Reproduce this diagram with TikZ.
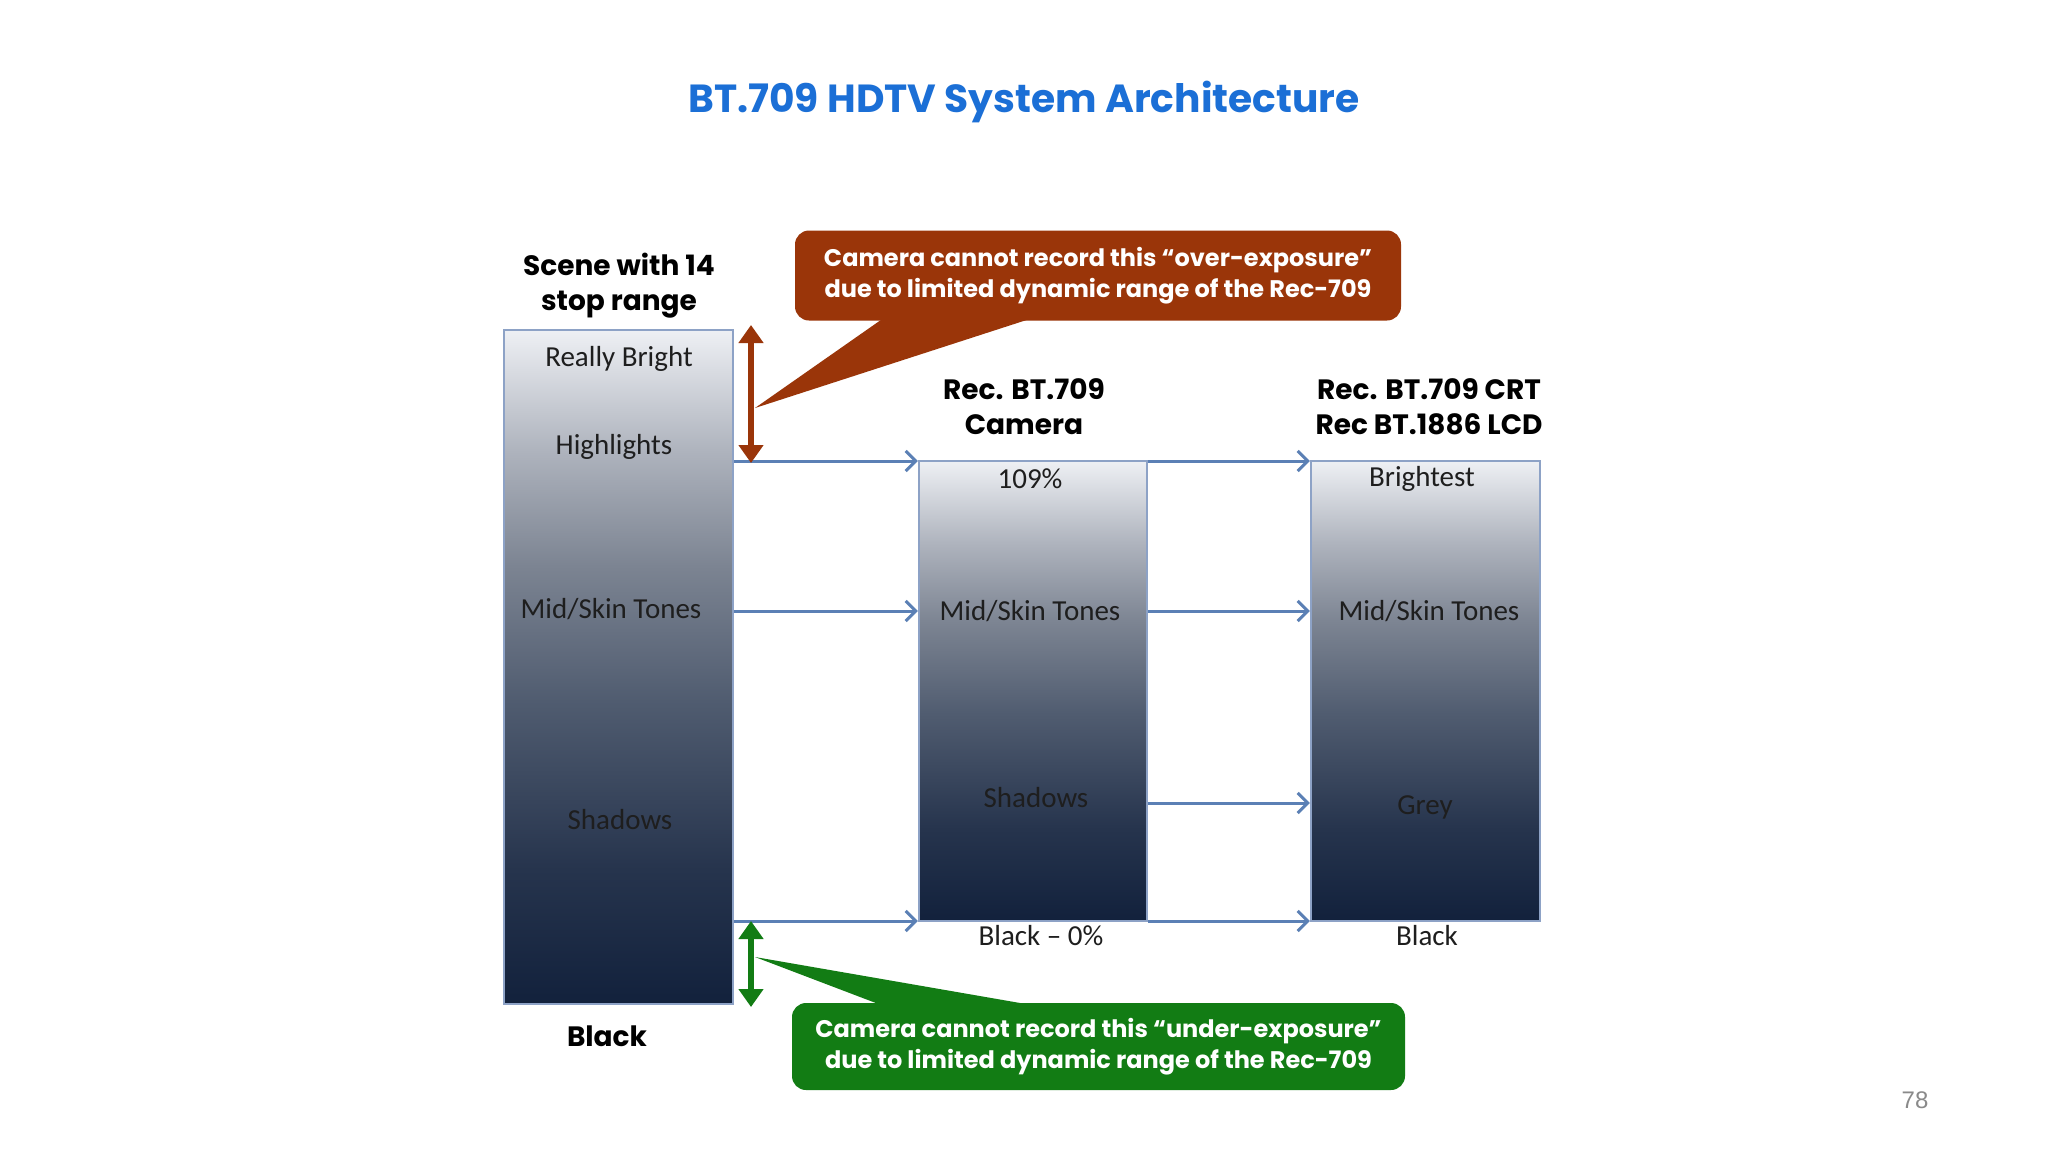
\documentclass[tikz,border=0pt]{standalone}
\usepackage{fontspec}
\setmainfont{Carlito}
\newfontfamily\gothic{Poppins}
\newfontfamily\arialf{Liberation Sans}
\usetikzlibrary{arrows.meta}
\definecolor{titleblue}{HTML}{1B6FD6}
\definecolor{rust}{HTML}{9A3509}
\definecolor{grn}{HTML}{127C14}
\definecolor{arrowblue}{HTML}{5B80B5}
\definecolor{boxborder}{HTML}{8DA2C6}
\definecolor{lbl}{HTML}{1E1E1E}
\definecolor{pagegray}{HTML}{8A8A8A}
\definecolor{sa}{HTML}{12213C}
\definecolor{sb}{HTML}{26344D}
\definecolor{sc}{HTML}{505C70}
\definecolor{sd}{HTML}{7C8492}
\definecolor{se}{HTML}{AEB3BD}
\definecolor{sf}{HTML}{EEF0F4}
\pgfdeclareverticalshading{boxshade}{100bp}{color(0bp)=(sa); color(25bp)=(sa); color(35bp)=(sb); color(47.5bp)=(sc); color(57.5bp)=(sd); color(66bp)=(se); color(75bp)=(sf); color(100bp)=(sf)}
\tikzset{
  tonebox/.style={shading=boxshade, draw=boxborder, line width=1.2pt, inner sep=0pt},
  lab/.style={font=\fontsize{14.5}{16}\selectfont, text=lbl, inner sep=0pt},
  head/.style={font=\gothic\bfseries\fontsize{14}{17.5}\selectfont, align=center, inner sep=0pt},
  flow/.style={draw=arrowblue, line width=1.5pt, -{Straight Barb[length=5pt,width=10pt]}},
  callout/.style={rounded corners=7pt, text=white, align=center, inner sep=0pt,
    font=\gothic\bfseries\fontsize{12}{15.5}\selectfont},
  rangearrow/.style={line width=2.6pt, {Triangle[length=9pt,width=12pt]}-{Triangle[length=9pt,width=12pt]}}
}
\begin{document}
\begin{tikzpicture}[x=0.5pt,y=-0.5pt]
\useasboundingbox[fill=white] (0,0) rectangle (2048,1152);
% title
\node[font=\gothic\bfseries\fontsize{19.6}{22}\selectfont, text=titleblue, inner sep=0pt] (title) at (1024,102) {BT.709 HDTV System Architecture};
% boxes
\node[tonebox, minimum width=114.5pt, minimum height=337pt] (b1) at (618.5,667) {};
\node[tonebox, minimum width=114pt, minimum height=230pt] (b2) at (1033,691) {};
\node[tonebox, minimum width=114.5pt, minimum height=230pt] (b3) at (1425.5,691) {};
% headers
\node[head] (h1) at (619,286) {Scene with 14\\stop range};
\node[head] (h2) at (1024,407) {Rec. BT.709\\Camera};
\node[head] (h3) at (1429,407) {Rec. BT.709 CRT\\Rec BT.1886 LCD};
\node[head] (blk) at (607,1036) {Black};
% labels box 1
\node[lab] (l11) at (619,359) {Really Bright};
\node[lab] (l12) at (614,447) {Highlights};
\node[lab] (l13) at (611,609) {Mid/Skin Tones};
\node[lab] (l14) at (620,820) {Shadows};
% labels box 2
\node[lab] (l21) at (1030,479) {109\%};
\node[lab] (l22) at (1030,611) {Mid/Skin Tones};
\node[lab] (l23) at (1036,798) {Shadows};
\node[lab] (l24) at (1041,936) {Black -- 0\%};
% labels box 3
\node[lab] (l31) at (1422,479) {Brightest};
\node[lab] (l32) at (1429,611) {Mid/Skin Tones};
\node[lab] (l33) at (1425,807) {Grey};
\node[lab] (l34) at (1427,936) {Black};
% flow arrows
\coordinate (yA) at (0,461);
\coordinate (yB) at (0,611);
\coordinate (yC) at (0,803);
\coordinate (yD) at (0,921);
\draw[flow] (b1.east |- yA) -- (b2.west |- yA);
\draw[flow] (b1.east |- yB) -- (b2.west |- yB);
\draw[flow] (b1.east |- yD) -- (b2.west |- yD);
\draw[flow] (b2.east |- yA) -- (b3.west |- yA);
\draw[flow] (b2.east |- yB) -- (b3.west |- yB);
\draw[flow] (b2.east |- yC) -- (b3.west |- yC);
\draw[flow] (b2.east |- yD) -- (b3.west |- yD);
% over-exposure callout
\coordinate (ra) at (751,325);
\coordinate (rb) at (751,463);
\coordinate (rtip) at (755,408);
\fill[rust] (rtip) -- (888,315) -- (1042,315) -- cycle;
\node[callout, fill=rust, minimum width=303pt, minimum height=45pt] (c1) at (1098,275.5)
  {Camera cannot record this “over-exposure”\\due to limited dynamic range of the Rec-709};
\draw[rust, rangearrow] (ra) -- (rb);
% under-exposure callout
\coordinate (ga) at (751,921);
\coordinate (gb) at (751,1007);
\coordinate (gtip) at (755,957);
\fill[grn] (gtip) -- (889,1008) -- (1049,1008) -- cycle;
\node[callout, fill=grn, minimum width=306.5pt, minimum height=43.5pt] (c2) at (1098.5,1046.5)
  {Camera cannot record this “under-exposure”\\due to limited dynamic range of the Rec-709};
\draw[grn, rangearrow] (ga) -- (gb);
% page number
\node[font=\arialf\fontsize{12}{14}\selectfont, text=pagegray, inner sep=0pt] (pg) at (1915,1100) {78};
\end{tikzpicture}
\end{document}
